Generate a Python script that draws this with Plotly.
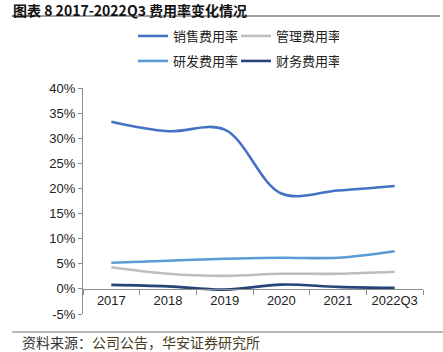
import plotly.graph_objects as go

categories = ["2017", "2018", "2019", "2020", "2021", "2022Q3"]
sales_rate = [33.3, 31.4, 31.7, 19.0, 19.6, 20.5]
admin_rate = [4.3, 3.0, 2.6, 3.0, 3.0, 3.4]
rd_rate = [5.2, 5.6, 6.0, 6.2, 6.2, 7.5]
fin_rate = [0.8, 0.5, -0.15, 0.85, 0.4, 0.2]
y_ticks = [-5, 0, 5, 10, 15, 20, 25, 30, 35, 40]
y_tick_labels = ["-5%", "0%", "5%", "10%", "15%", "20%", "25%", "30%", "35%", "40%"]

series = [
    ("销售费用率", sales_rate, "#4472C4", "legend"),
    ("管理费用率", admin_rate, "#BDBDBD", "legend"),
    ("研发费用率", rd_rate, "#5B9BD5", "legend2"),
    ("财务费用率", fin_rate, "#264478", "legend2"),
]

W, H = 443, 352
L, R, T, B = 83, 20, 88, 38
PW, PH = W - L - R, H - T - B


def px2x(px):
    return (px - L) / PW


def px2y(py):
    return (H - B - py) / PH


fig = go.Figure()
for name, vals, color, lg in series:
    fig.add_trace(go.Scatter(
        x=categories, y=vals, name=name, mode="lines",
        line=dict(color=color, width=2.6, shape="spline", smoothing=1.0),
        legend=lg,
    ))

legend_common = dict(
    orientation="h", xref="container", yref="container",
    xanchor="left", yanchor="middle",
    font=dict(family="Noto Sans CJK SC", size=13, color="#222"),
    entrywidth=58, entrywidthmode="pixels",
    bgcolor="rgba(0,0,0,0)", itemwidth=30,
)

fig.update_layout(
    width=W, height=H,
    margin=dict(l=L, r=R, t=T, b=B, autoexpand=False),
    paper_bgcolor="white", plot_bgcolor="white",
    font=dict(family="Arial, Liberation Sans, sans-serif", size=13, color="#222"),
    legend=dict(x=133 / W, y=1 - 36 / H, **legend_common),
    legend2=dict(x=133 / W, y=1 - 61 / H, **legend_common),
    xaxis=dict(
        type="category", range=[-0.5, 5.5],
        anchor="free", position=5 / 45,
        showline=True, linecolor="#8c8c8c", linewidth=1,
        ticks="outside", tickson="boundaries", ticklen=5, tickcolor="#8c8c8c",
        showgrid=False, zeroline=False, automargin=False,
        tickfont=dict(family="Arial, Liberation Sans, sans-serif", size=13, color="#222"),
    ),
    yaxis=dict(
        range=[-5, 40], tickvals=y_ticks, ticktext=y_tick_labels,
        showline=True, linecolor="#8c8c8c", linewidth=1,
        ticks="outside", ticklen=4, tickcolor="#8c8c8c",
        showgrid=False, zeroline=False, automargin=False,
        tickfont=dict(family="Arial, Liberation Sans, sans-serif", size=13, color="#222"),
    ),
    shapes=[
        dict(type="line", xref="paper", yref="paper", x0=px2x(12), x1=px2x(440),
             y0=px2y(16), y1=px2y(16), line=dict(color="#a0a0a0", width=2)),
        dict(type="line", xref="paper", yref="paper", x0=px2x(12), x1=px2x(37),
             y0=px2y(16), y1=px2y(16), line=dict(color="#707070", width=2)),
        dict(type="line", xref="paper", yref="paper", x0=px2x(12), x1=px2x(443),
             y0=px2y(332), y1=px2y(332), line=dict(color="#707070", width=1)),
    ],
    annotations=[
        dict(text="<b>图表 8 2017-2022Q3 费用率变化情况</b>", xref="paper", yref="paper",
             x=px2x(11), y=px2y(-2), xanchor="left", yanchor="top", showarrow=False,
             font=dict(family="Noto Sans CJK SC", size=14, color="#111")),
        dict(text="资料来源：<span style='color:#4a3c22'>公司公告，华安证券研究所</span>",
             xref="paper", yref="paper",
             x=px2x(20), y=px2y(342), xanchor="left", yanchor="middle", showarrow=False,
             font=dict(family="Noto Sans CJK SC", size=14, color="#333")),
    ],
)

fig.write_html("out.html")
